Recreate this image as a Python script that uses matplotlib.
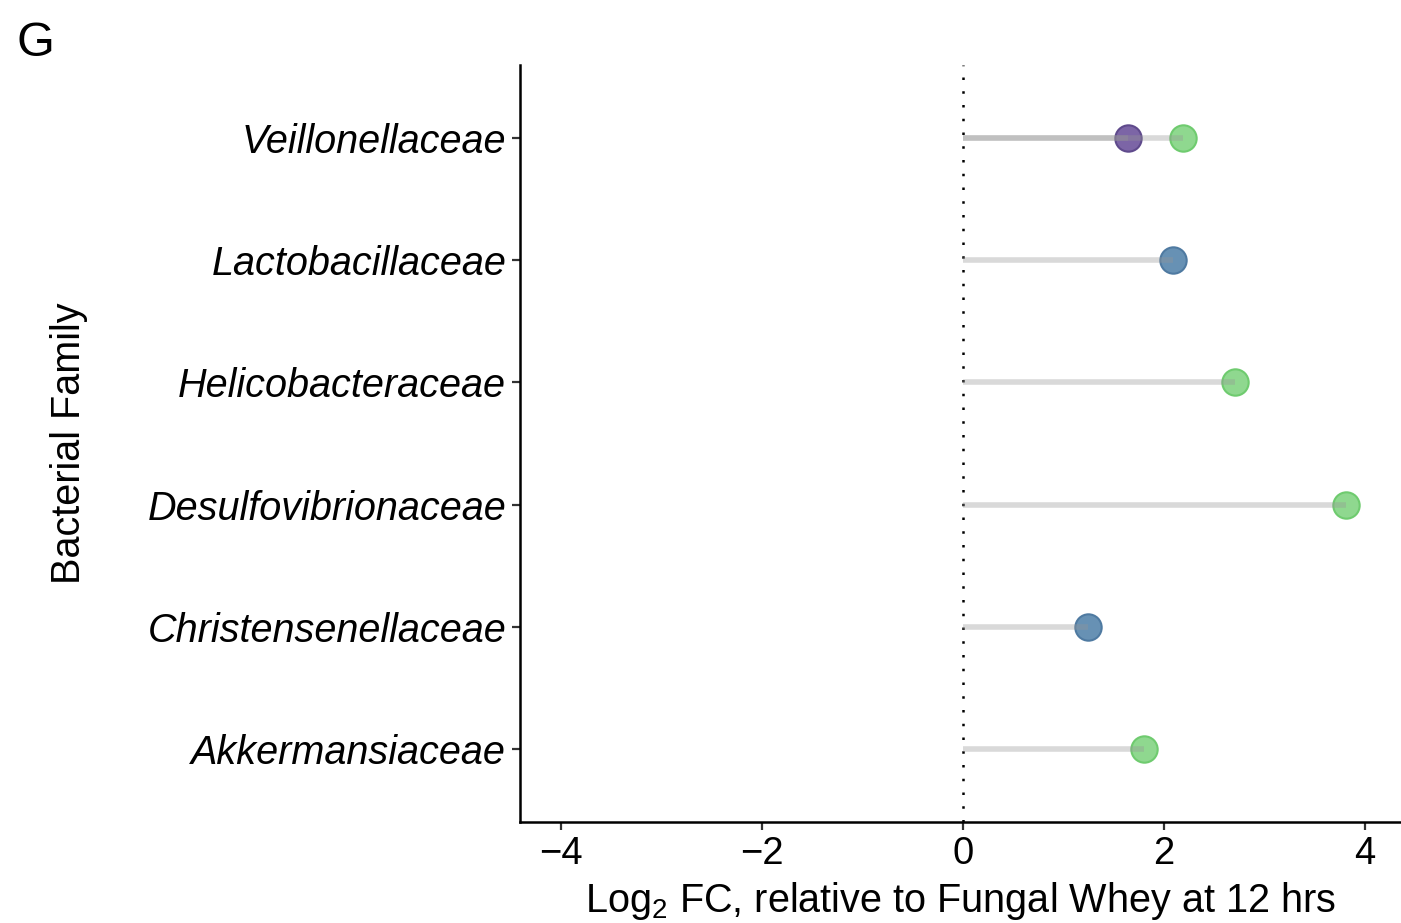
import numpy as np
import matplotlib.pyplot as plt

plt.rcParams['font.family'] = ['Liberation Sans', 'DejaVu Sans']
plt.rcParams['mathtext.default'] = 'regular'

# familias, de arriba hacia abajo
familias = ['Veillonellaceae', 'Lactobacillaceae', 'Helicobacteraceae',
            'Desulfovibrionaceae', 'Christensenellaceae', 'Akkermansiaceae']

# cada punto: familia, log2 FC, grupo
punto_familia = ['Veillonellaceae', 'Veillonellaceae', 'Lactobacillaceae',
                 'Helicobacteraceae', 'Desulfovibrionaceae',
                 'Christensenellaceae', 'Akkermansiaceae']
punto_lfc = [1.64, 2.19, 2.09, 2.71, 3.81, 1.24, 1.80]
punto_grupo = ['morado', 'verde', 'azul', 'verde', 'verde', 'azul', 'verde']

relleno = {'morado': '#7c65a6', 'verde': '#8fd88f', 'azul': '#6791b4'}
borde = {'morado': '#5f4a8c', 'verde': '#6fcb6f', 'azul': '#4f7aa1'}

pos = {f: len(familias) - i for i, f in enumerate(familias)}

fig = plt.figure(figsize=(14.01, 9.23), dpi=100)
ax = fig.add_axes([0.3712, 0.1094, 0.6288, 0.8202])

ax.axvline(0, color='black', linestyle=(0, (1, 4.5)), linewidth=1.8, zorder=1)

for f, v, g in zip(punto_familia, punto_lfc, punto_grupo):
    y = pos[f]
    ax.scatter(v, y, s=360, color=relleno[g], edgecolor=borde[g],
               linewidth=1.5, zorder=3)
    ax.plot([0, v], [y, y], color='#969696', alpha=0.36, linewidth=4,
            solid_capstyle='butt', zorder=4)

ax.set_xlim(-4.41, 4.36)
ax.set_ylim(0.4, len(familias) + 0.6)
ax.set_xticks([-4, -2, 0, 2, 4])
ax.set_xticklabels(['\u22124', '\u22122', '0', '2', '4'])
ax.set_yticks([pos[f] for f in familias])
ax.set_yticklabels(familias, fontstyle='italic')

for s in ['top', 'right']:
    ax.spines[s].set_visible(False)
for s in ['left', 'bottom']:
    ax.spines[s].set_linewidth(1.8)
ax.tick_params(axis='both', length=6, width=1.6, color='#333333',
               labelsize=27.5, labelcolor='black', pad=4)
ax.tick_params(axis='y', labelsize=28.5)

ax.set_xlabel('Log$_2$ FC, relative to Fungal Whey at 12 hrs', fontsize=28.5,
              labelpad=6)
ax.set_ylabel('Bacterial Family', fontsize=28.5)
ax.yaxis.set_label_coords(-0.49, 0.5)

fig.text(0.012, 0.9534, 'G', fontsize=35, va='center', ha='left')

fig.savefig('out.png', dpi=100)
